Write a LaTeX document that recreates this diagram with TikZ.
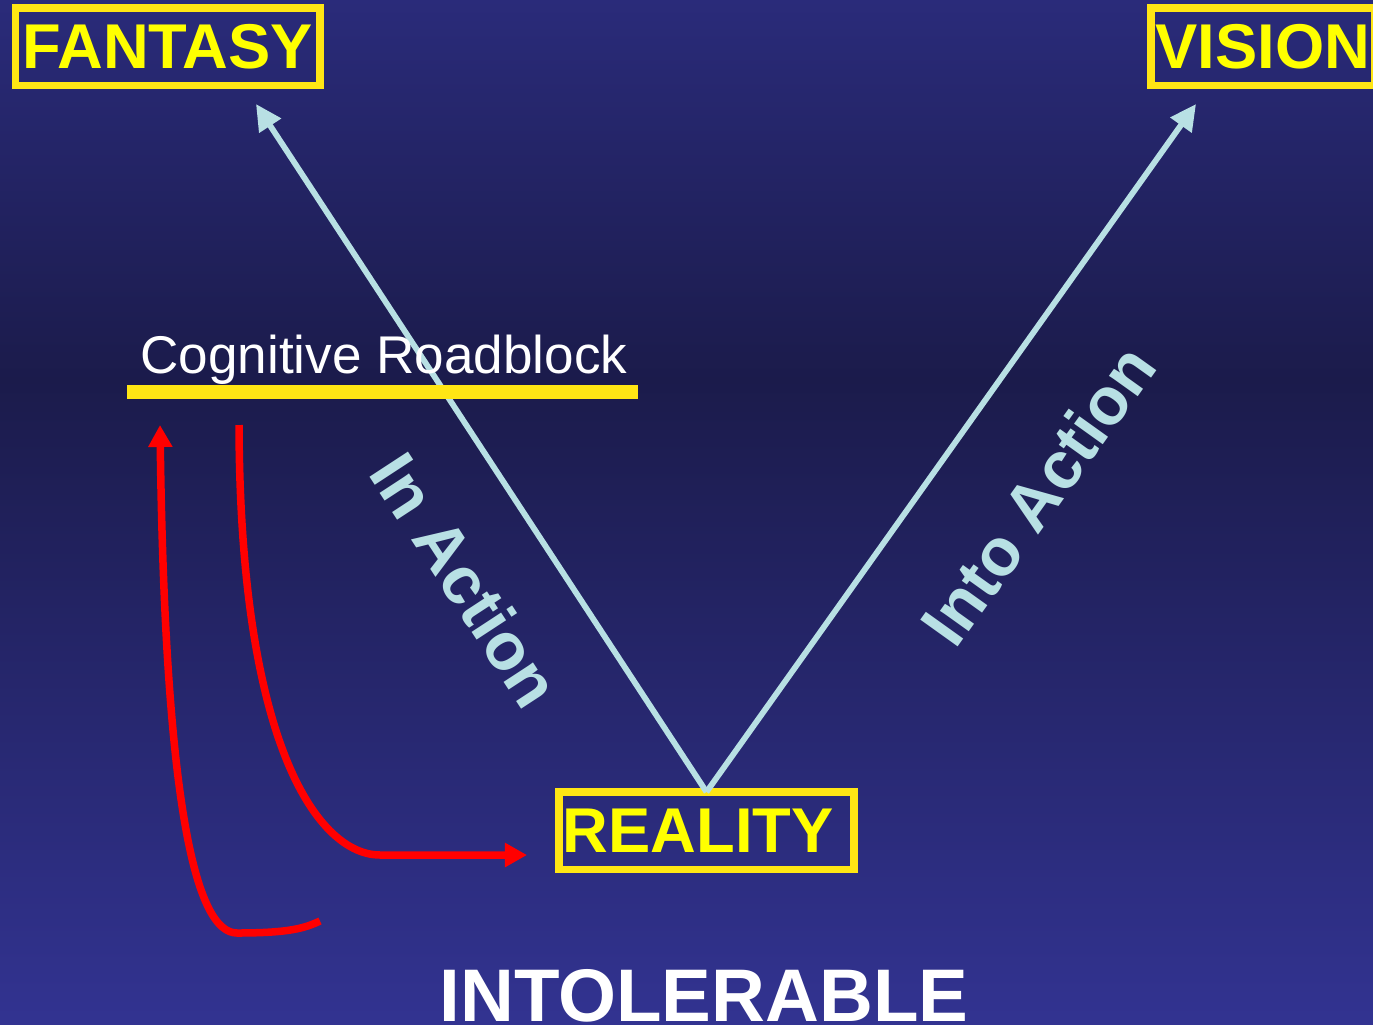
\documentclass[tikz,border=0pt]{standalone}
\usepackage{fontspec}
\setmainfont{Liberation Sans}
\usetikzlibrary{arrows.meta}

\definecolor{bgtop}{RGB}{42,43,122}
\definecolor{bgmid}{RGB}{27,27,75}
\definecolor{bgbot}{RGB}{50,51,145}
\definecolor{boxyellow}{RGB}{255,230,20}
\definecolor{textyellow}{RGB}{255,255,0}
\definecolor{actionblue}{RGB}{184,224,228}
\definecolor{loopred}{RGB}{255,0,0}

\tikzset{
    tagbox/.style={draw=boxyellow, line width=0.075cm, text=textyellow, inner sep=0pt, outer sep=0pt,
        minimum height=0.775cm, text depth=0pt, font=\fontsize{18pt}{20pt}\selectfont\bfseries},
    sidelabel/.style={text=actionblue, inner sep=0pt, font=\fontsize{19pt}{21pt}\selectfont\bfseries},
    bluearrow/.style={actionblue, line width=0.058cm, -{Triangle[length=0.26cm, width=0.25cm]}},
    redarrow/.style={loopred, line width=0.075cm, -{Triangle[length=0.22cm, width=0.23cm]}}
}

\begin{document}
\begin{tikzpicture}[x=0.01cm, y=-0.01cm, >=Stealth, thick]
    % Background gradient
    \useasboundingbox (0,0) rectangle (1373,1024);
    \shade[top color=bgtop, bottom color=bgmid] (0,0) rectangle (1373,380);
    \shade[top color=bgmid, bottom color=bgbot] (0,379) rectangle (1373,1024);
    \clip (0,0) rectangle (1373,1024);

    % Boxes
    \node[tagbox, minimum width=3.045cm] (fantasy) at (167.75,46.75) {FANTASY};
    \node[tagbox, minimum width=2.24cm] (vision) at (1263,46.75) {VISION};
    \node[tagbox, text width=2.87cm, inner xsep=0.04cm, align=left] (reality) at (706.5,830.75) {REALITY};

    % V out of REALITY
    \coordinate (fantasyTip) at (256,104);
    \coordinate (visionTip) at (1196,104);
    \draw[bluearrow] (reality.north) -- (fantasyTip);
    \draw[bluearrow] (reality.north) -- (visionTip);

    % Roadblock
    \node[anchor=base, text=white, inner sep=0pt, font=\fontsize{15.1pt}{17pt}\selectfont] (roadblock) at (384,373) {Cognitive Roadblock};
    \draw[boxyellow, line width=0.14cm] (127,392) -- (638,392);

    % Red loop
    \coordinate (upStart) at (320,921);
    \coordinate (upEnd) at (160,425);
    \draw[redarrow] (upStart) .. controls (305,928) and (290,933) .. (237,933)
        .. controls (195,933) and (165,800) .. (upEnd);
    \coordinate (downStart) at (239,425);
    \coordinate (downEnd) at (527,855);
    \draw[redarrow] (downStart) .. controls (240,750) and (320,855) .. (380,855) -- (downEnd);

    % Arrow labels
    \node[sidelabel, rotate=-56.8] (inaction) at (466,580) {In Action};
    \node[sidelabel, rotate=54.4] (intoaction) at (1038,495) {Into Action};

    % Bottom line
    \node[anchor=base, text=white, inner sep=0pt, font=\fontsize{21.2pt}{23pt}\selectfont\bfseries] (intolerable) at (704,1021) {INTOLERABLE};
\end{tikzpicture}
\end{document}
